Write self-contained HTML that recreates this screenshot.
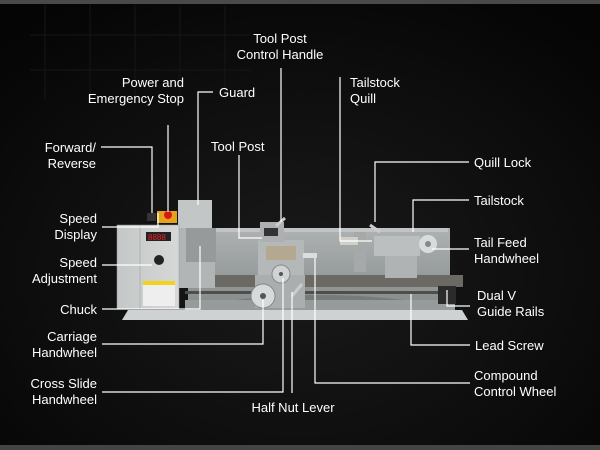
<!DOCTYPE html>
<html><head><meta charset="utf-8"><style>
html,body{margin:0;padding:0;background:#000;}
svg{display:block}
text{font-family:"Liberation Sans",sans-serif;font-size:13px;fill:#fff;}
</style></head><body>
<svg width="600" height="450" viewBox="0 0 600 450" xmlns="http://www.w3.org/2000/svg">
<defs>
<radialGradient id="bg" cx="0.5" cy="0.6" r="0.7">
<stop offset="0" stop-color="#1a1a1a"/><stop offset="0.6" stop-color="#0e0e0e"/><stop offset="1" stop-color="#050505"/>
</radialGradient>
<linearGradient id="body" x1="0" y1="0" x2="0" y2="1"><stop offset="0" stop-color="#aeb2b2"/><stop offset="1" stop-color="#8a8f8f"/></linearGradient>
<linearGradient id="head" x1="0" y1="0" x2="1" y2="0"><stop offset="0" stop-color="#c4c7c7"/><stop offset="1" stop-color="#d6d8d8"/></linearGradient>
</defs>
<rect width="600" height="450" fill="url(#bg)"/>
<rect x="0" y="0" width="600" height="4" fill="#4a4a4a"/>
<rect x="0" y="445" width="600" height="5" fill="#444"/>
<g stroke="#161616" stroke-width="1" fill="none">
<line x1="45" y1="5" x2="45" y2="100"/><line x1="90" y1="5" x2="90" y2="100"/><line x1="135" y1="5" x2="135" y2="100"/><line x1="180" y1="5" x2="180" y2="100"/><line x1="225" y1="5" x2="225" y2="100"/>
<line x1="30" y1="35" x2="250" y2="35"/><line x1="30" y1="70" x2="250" y2="70"/>
</g>
<!-- lathe -->
<polygon points="128,310 462,310 468,320 122,320" fill="#cfd2d2"/>
<rect x="188" y="228" width="262" height="72" fill="url(#body)"/>
<rect x="190" y="228" width="258" height="4" fill="#c0c4c4"/>
<path d="M200,305 Q320,285 440,305 Z" fill="#767b7b"/>
<rect x="185" y="300" width="270" height="10" fill="#969c9c"/>
<rect x="185" y="275" width="278" height="12" fill="#6a6963"/>
<rect x="185" y="291" width="265" height="3" fill="#4e4e4a"/>
<rect x="438" y="286" width="18" height="18" fill="#2b2b2b"/>
<!-- tailstock -->
<rect x="354" y="232" width="12" height="40" fill="#a5a9a9"/>
<rect x="340" y="237" width="18" height="8" fill="#d0d0c8"/>
<rect x="374" y="236" width="46" height="20" fill="#bbbfbf"/>
<rect x="385" y="256" width="32" height="22" fill="#afb3b3"/>
<circle cx="428" cy="244" r="9" fill="#d9dcdc"/><circle cx="428" cy="244" r="3" fill="#888"/>
<line x1="370" y1="225" x2="380" y2="232" stroke="#ccc" stroke-width="3"/>
<!-- carriage -->
<rect x="258" y="240" width="46" height="36" fill="#b4b8b8"/>
<rect x="266" y="246" width="30" height="14" fill="#b4a890"/>
<rect x="255" y="275" width="50" height="33" fill="#aaaeae"/>
<rect x="260" y="222" width="24" height="20" fill="#acb0b0"/>
<rect x="264" y="228" width="14" height="8" fill="#333"/>
<line x1="276" y1="226" x2="285" y2="218" stroke="#ccc" stroke-width="3"/>
<rect x="303" y="253" width="14" height="5" fill="#ddd"/>
<circle cx="263" cy="296" r="12" fill="#d7dada" stroke="#888"/><circle cx="263" cy="296" r="3" fill="#555"/>
<circle cx="281" cy="274" r="9" fill="#d0d3d3" stroke="#888"/><circle cx="281" cy="274" r="2" fill="#555"/>
<line x1="292" y1="296" x2="302" y2="284" stroke="#ccc" stroke-width="3"/>
<!-- headstock -->
<rect x="175" y="228" width="40" height="60" fill="#b1b5b5"/>
<rect x="186" y="228" width="30" height="34" fill="#969a9a"/>
<rect x="178" y="200" width="34" height="28" fill="#c3c6c6"/>
<rect x="157" y="211" width="20" height="12" fill="#e3a21a"/>
<circle cx="168" cy="215" r="4" fill="#d81818"/>
<rect x="147" y="213" width="9" height="8" fill="#333"/>
<rect x="117" y="225" width="62" height="84" fill="url(#head)" stroke="#999" stroke-width="0.5"/>
<line x1="140" y1="225" x2="140" y2="309" stroke="#999" stroke-width="0.5"/>
<rect x="146" y="232" width="25" height="9" fill="#222"/>
<text x="148" y="240" style="font-size:8px;fill:#e22">8888</text>
<circle cx="159" cy="260" r="5" fill="#222"/>
<rect x="143" y="281" width="32" height="25" fill="#eee"/>
<rect x="143" y="281" width="32" height="4" fill="#f2d21a"/>
<!-- leader lines -->
<g stroke="#fff" stroke-width="1.2" fill="none">
<polyline points="281,68 281,222"/>
<polyline points="168,125 168,212"/>
<polyline points="213,92 198,92 198,205"/>
<polyline points="239,155 239,238 262,238"/>
<polyline points="340,77 340,241 372,241"/>
<polyline points="469,162 375,162 375,222"/>
<polyline points="469,200 413,200 413,232"/>
<polyline points="469,249 432,249"/>
<polyline points="470,306 447,306 447,290"/>
<polyline points="470,345 411,345 411,294"/>
<polyline points="470,383 315,383 315,258"/>
<polyline points="292,393 292,292"/>
<polyline points="102,392 283,392 283,278"/>
<polyline points="102,344 263,344 263,300"/>
<polyline points="102,309 200,309 200,246"/>
<polyline points="102,265 152,265"/>
<polyline points="102,227 158,227 158,213"/>
<polyline points="101,147 152,147 152,213"/>
</g>
<!-- labels -->
<g text-anchor="middle">
<text x="280" y="43">Tool Post</text><text x="280" y="59">Control Handle</text>
<text x="293" y="412">Half Nut Lever</text>
</g>
<g text-anchor="end">
<text x="184" y="87">Power and</text><text x="184" y="103">Emergency Stop</text>
<text x="96" y="152">Forward/</text><text x="96" y="168">Reverse</text>
<text x="97" y="223">Speed</text><text x="97" y="239">Display</text>
<text x="97" y="267">Speed</text><text x="97" y="283">Adjustment</text>
<text x="97" y="314">Chuck</text>
<text x="97" y="341">Carriage</text><text x="97" y="357">Handwheel</text>
<text x="97" y="388">Cross Slide</text><text x="97" y="404">Handwheel</text>
</g>
<text x="219" y="97">Guard</text>
<text x="211" y="151">Tool Post</text>
<text x="350" y="87">Tailstock</text><text x="350" y="103">Quill</text>
<text x="474" y="167">Quill Lock</text>
<text x="474" y="205">Tailstock</text>
<text x="474" y="247">Tail Feed</text><text x="474" y="263">Handwheel</text>
<text x="477" y="300">Dual V</text><text x="477" y="316">Guide Rails</text>
<text x="475" y="350">Lead Screw</text>
<text x="474" y="380">Compound</text><text x="474" y="396">Control Wheel</text>
</svg>
</body></html>
